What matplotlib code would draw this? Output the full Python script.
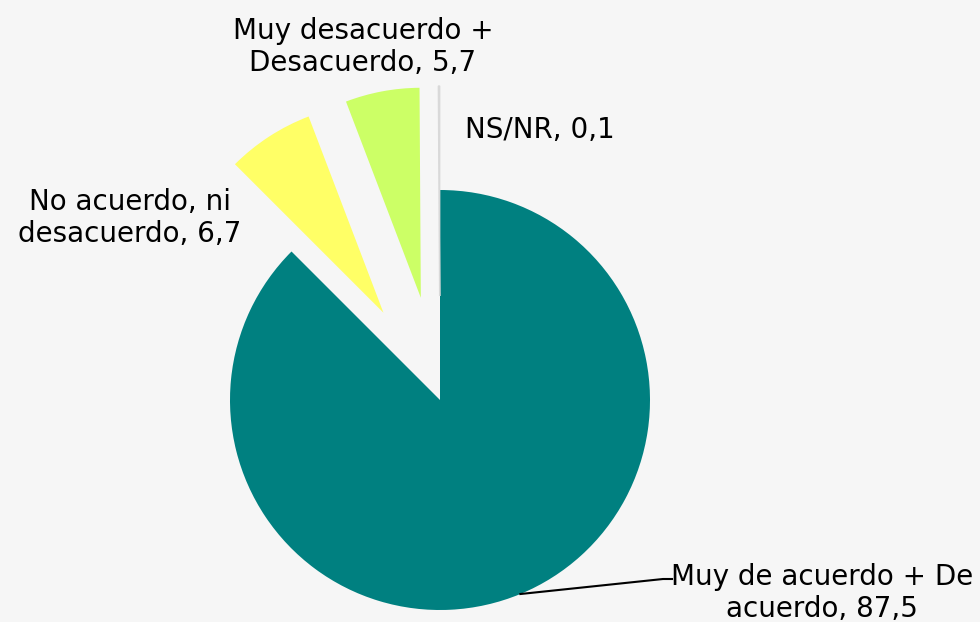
import numpy as np
import matplotlib.pyplot as plt

categorias = ['Muy de acuerdo + De\nacuerdo', 'No acuerdo, ni\ndesacuerdo',
              'Muy desacuerdo +\nDesacuerdo', 'NS/NR']
valores = [87.5, 6.7, 5.7, 0.1]
etiquetas = ['87,5', '6,7', '5,7', '0,1']
colores = ['#008080', '#ffff66', '#ccff66', '#d9d9d9']

fondo = '#f6f6f6'
fig = plt.figure(figsize=(9.8, 6.22), dpi=100)
fig.patch.set_facecolor(fondo)
ax = fig.add_axes([0, 0, 1, 1])
ax.set_facecolor(fondo)

cx, cy, r = 440, 222, 210
# explode en unidades de datos (pixeles)
explode = [0, 104, 104, 104]
wedges, _ = ax.pie(valores, colors=colores, explode=explode, startangle=90,
                   counterclock=False, radius=r, center=(cx, cy),
                   wedgeprops=dict(linewidth=0))
wedges[3].set_edgecolor('#d9d9d9')
wedges[3].set_linewidth(1)
ax.set_xlim(0, 980)
ax.set_ylim(0, 622)
ax.set_aspect('equal')
ax.axis('off')

fuente = dict(family='DejaVu Sans', fontsize=20, color='black', ha='center',
              va='center', linespacing=1.2)

# etiqueta principal con linea guia
w = wedges[0]
ang = np.deg2rad((w.theta1 + w.theta2) / 2)
x0, y0 = cx + r * np.cos(ang), cy + r * np.sin(ang)
ax.plot([x0, 663, 672], [y0, 43, 43], color='black', lw=1.5)
ax.text(822, 29, categorias[0] + ', ' + etiquetas[0], **fuente)

ax.text(130, 404, categorias[1] + ', ' + etiquetas[1], **fuente)
ax.text(363, 575, categorias[2] + ', ' + etiquetas[2], **fuente)
ax.text(540, 492, categorias[3] + ', ' + etiquetas[3], **fuente)

fig.savefig('out.png', dpi=100, facecolor=fig.get_facecolor())
